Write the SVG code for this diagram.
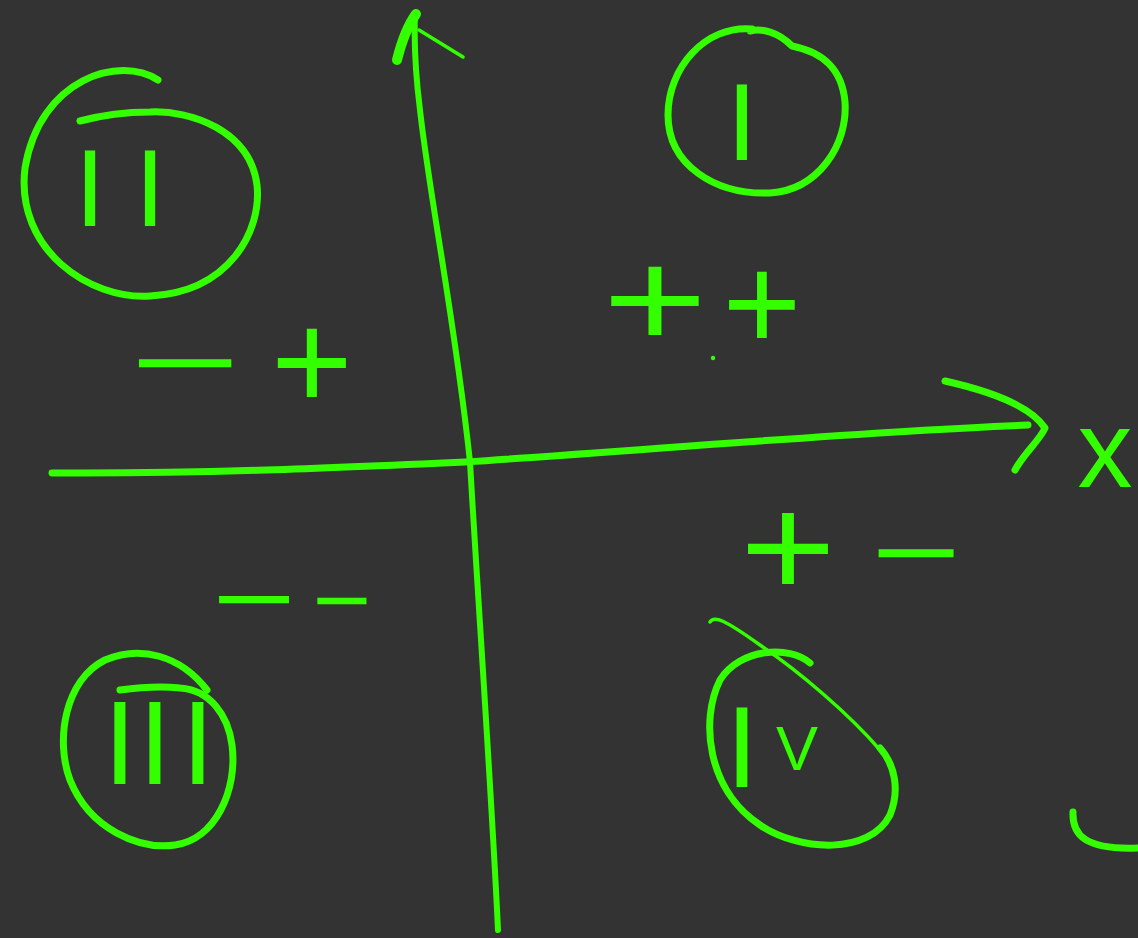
<svg xmlns="http://www.w3.org/2000/svg" width="1138" height="938" viewBox="0 0 1138 938">
<style>
.s{fill:none;stroke:#33ff00;stroke-linecap:round;stroke-linejoin:round}
.t{fill:#33ff00;font-family:"Liberation Sans",Arial,sans-serif;text-anchor:middle}
</style>
<rect width="1138" height="938" fill="#333333"/>
<g id="connectors">
  <path class="s" stroke-width="7" d="M52,473 C200,474 330,468 465,462 C650,450 850,432 1028,425"/>
  <path class="s" stroke-width="7" d="M945,381 C985,390 1030,405 1045,428 C1040,440 1025,452 1015,470"/>
  <path class="s" stroke-width="6" d="M498,930 C492,800 478,600 470,462 C455,320 430,200 420,110 C415,70 414,40 415,15"/>
  <path class="s" stroke-width="10" d="M397,60 C402,40 408,25 416,14"/>
  <path class="s" stroke-width="3.5" d="M419,30 L463,57"/>
  <path class="s" stroke-width="7" d="M1073,812 C1072,835 1085,850 1138,848"/>
</g>
<g id="quadrant-I">
  <path class="s" stroke-width="7" d="M752,29 C705,25 668,68 668,115 C668,165 715,195 770,193 C818,190 848,145 845,102 C842,68 822,52 792,46 C778,32 762,28 750,31"/>
  <text class="t" x="742" y="160" font-size="109">I</text>
</g>
<g id="quadrant-II">
  <path class="s" stroke-width="7" d="M158,80 C120,55 40,78 25,168 C15,250 90,300 150,296 C230,292 262,230 257,185 C250,130 190,110 150,112 C120,112 95,117 80,121"/>
  <text class="t" x="90 150" y="226" font-size="110">II</text>
</g>
<g id="quadrant-III">
  <path class="s" stroke-width="7" d="M207,690 C180,655 140,645 105,660 C65,680 55,740 70,780 C90,830 140,850 175,845 C215,840 238,790 232,745 C228,715 210,690 180,688 C160,686 135,688 120,690"/>
  <text class="t" x="120 155 198" y="784" font-size="118">III</text>
</g>
<g id="quadrant-IV">
  <path class="s" stroke-width="7" d="M810,663 C790,645 740,648 720,680 C700,720 707,790 760,825 C800,852 870,855 890,815 C900,790 895,765 880,748"/>
  <path class="s" stroke-width="3.5" d="M710,622 C714,615 725,620 760,645 C800,672 850,715 880,750"/>
  <text class="t" y="787" font-size="115"><tspan x="742">I</tspan><tspan x="797" font-size="63" y="770">V</tspan></text>
</g>
<g id="sign-I">
  <text class="t" x="655" y="347" font-size="140" textLength="105" lengthAdjust="spacingAndGlyphs">+</text>
  <text class="t" x="762" y="350" font-size="135">+</text>
  <circle cx="713" cy="358" r="2.2" fill="#33ff00"/>
</g>
<g id="sign-II">
  <text class="t" x="185" y="400" font-size="110" textLength="111" lengthAdjust="spacingAndGlyphs">−</text>
  <text class="t" x="312" y="409" font-size="140">+</text>
</g>
<g id="sign-III">
  <text class="t" x="254" y="633" font-size="100" textLength="84" lengthAdjust="spacingAndGlyphs">−</text>
  <text class="t" x="342" y="631" font-size="90" textLength="59" lengthAdjust="spacingAndGlyphs">−</text>
</g>
<g id="sign-IV">
  <text class="t" x="788" y="597" font-size="145" textLength="96" lengthAdjust="spacingAndGlyphs">+</text>
  <text class="t" x="916" y="590" font-size="110" textLength="90" lengthAdjust="spacingAndGlyphs">−</text>
</g>
<g id="axis-label-x">
  <text class="t" x="1105" y="487" font-size="110">x</text>
</g>
</svg>
